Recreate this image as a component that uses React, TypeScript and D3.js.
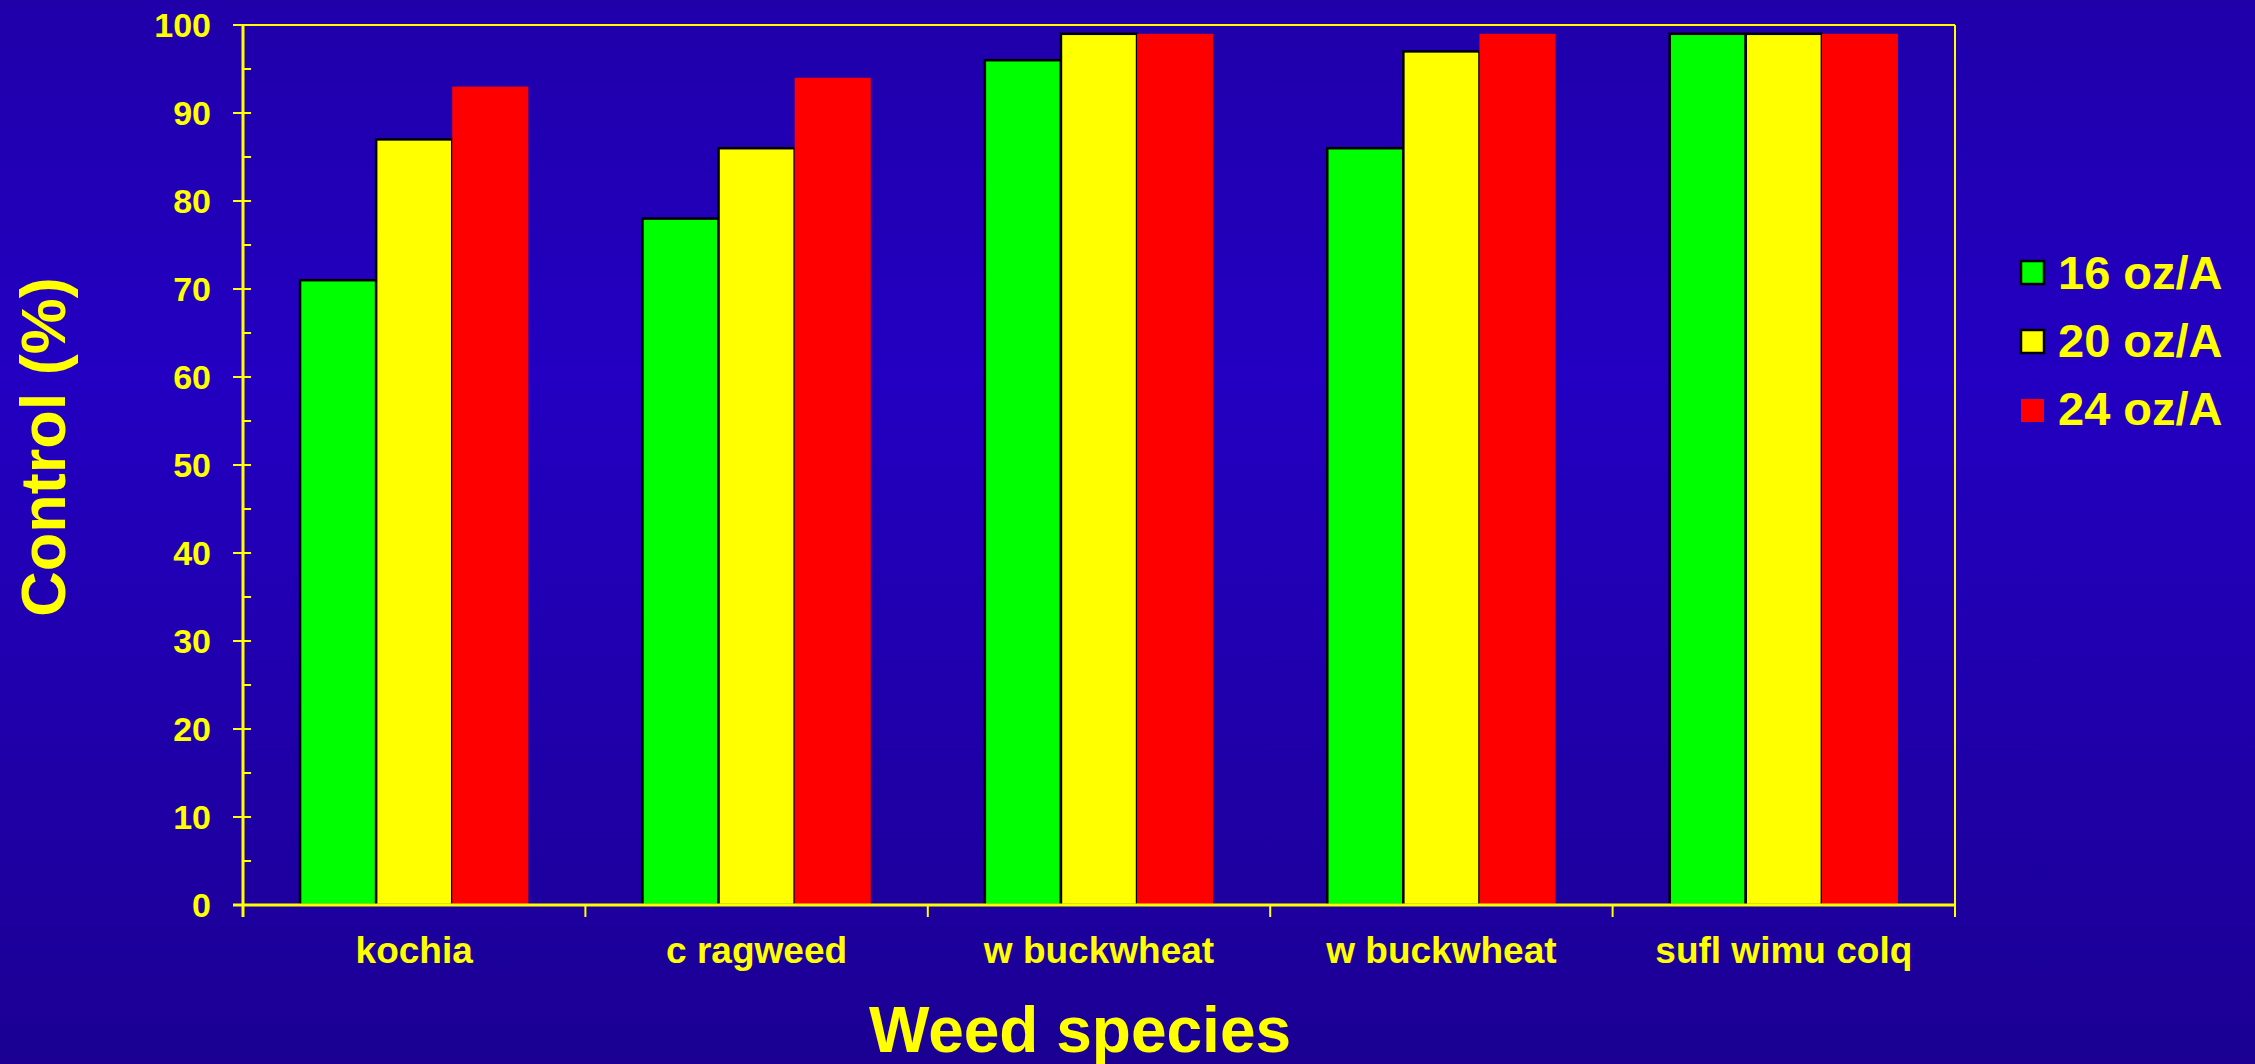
import React from "react";
import * as d3 from "d3";

const categories = ["kochia", "c ragweed", "w buckwheat", "w buckwheat", "sufl wimu colq"];
const seriesNames = ["16 oz/A", "20 oz/A", "24 oz/A"];
const seriesColors = ["#00ff00", "#ffff00", "#ff0000"];
const seriesStroke = ["#000000", "#000000", "none"];
const values16 = [71, 78, 96, 86, 99];
const values20 = [87, 86, 99, 97, 99];
const values24 = [93, 94, 99, 99, 99];
const seriesValues = [values16, values20, values24];
const yMajorTicks = [0, 10, 20, 30, 40, 50, 60, 70, 80, 90, 100];
const yMinorTicks = [5, 15, 25, 35, 45, 55, 65, 75, 85, 95];

const W = 2255;
const H = 1064;
const left = 243;
const right = 1955;
const top = 25;
const bottom = 905;
const YELLOW = "#ffff00";
const FONT = "'Liberation Sans', Arial, sans-serif";

export default function App() {
  const idx = categories.map((_, i) => i);
  const x0 = d3
    .scaleBand<number>()
    .domain(idx)
    .range([left, right])
    .paddingInner(1 / 3)
    .paddingOuter(1 / 6);
  const x1 = d3
    .scaleBand<number>()
    .domain([0, 1, 2])
    .range([0, x0.bandwidth()]);
  const y = d3.scaleLinear().domain([0, 100]).range([bottom, top]);
  const step = x0.step();
  const boundaries = d3.range(categories.length + 1).map((i) => left + i * step);

  return (
    <svg
      width={W}
      height={H}
      style={{ position: "absolute", left: 0, top: 0, display: "block" }}
      fontFamily={FONT}
    >
      <defs>
        <linearGradient id="bg" x1="0" y1="0" x2="0" y2="1">
          <stop offset="0%" stopColor="#1f00a9" />
          <stop offset="35%" stopColor="#2300c2" />
          <stop offset="100%" stopColor="#1b0093" />
        </linearGradient>
      </defs>
      <rect x={0} y={0} width={W} height={H} fill="url(#bg)" />

      {/* bars */}
      {seriesValues.map((vals, s) =>
        vals.map((v, i) => (
          <rect
            key={`b${s}-${i}`}
            x={(x0(i) as number) + (x1(s) as number)}
            y={y(v)}
            width={x1.bandwidth()}
            height={y(0) - y(v)}
            fill={seriesColors[s]}
            stroke={seriesStroke[s]}
            strokeWidth={2.5}
          />
        ))
      )}

      {/* frame top & right */}
      <line x1={left} x2={right} y1={top} y2={top} stroke={YELLOW} strokeWidth={2} />
      <line x1={right} x2={right} y1={top} y2={bottom} stroke={YELLOW} strokeWidth={2} />

      {/* y axis */}
      <line x1={left} x2={left} y1={top} y2={bottom + 12} stroke={YELLOW} strokeWidth={3} />
      {yMajorTicks.map((t) => (
        <g key={`ym${t}`}>
          <line x1={left - 10} x2={left + 8} y1={y(t)} y2={y(t)} stroke={YELLOW} strokeWidth={2} />
          <text
            x={211}
            y={y(t) + 12}
            textAnchor="end"
            fill={YELLOW}
            fontSize={34}
            fontWeight="bold"
          >
            {t}
          </text>
        </g>
      ))}
      {yMinorTicks.map((t) => (
        <line key={`yn${t}`} x1={left} x2={left + 8} y1={y(t)} y2={y(t)} stroke={YELLOW} strokeWidth={2} />
      ))}

      {/* x axis */}
      <line x1={left - 10} x2={right} y1={bottom} y2={bottom} stroke={YELLOW} strokeWidth={3} />
      {boundaries.map((b, i) => (
        <line key={`xt${i}`} x1={b} x2={b} y1={bottom} y2={bottom + 12} stroke={YELLOW} strokeWidth={2} />
      ))}
      {categories.map((c, i) => (
        <text
          key={`xl${i}`}
          x={(x0(i) as number) + x0.bandwidth() / 2}
          y={963}
          textAnchor="middle"
          fill={YELLOW}
          fontSize={37}
          fontWeight="bold"
        >
          {c}
        </text>
      ))}

      {/* axis titles */}
      <text
        x={1080}
        y={1052}
        textAnchor="middle"
        fill={YELLOW}
        fontSize={64}
        fontWeight="bold"
      >
        Weed species
      </text>
      <text
        transform={`translate(65, 447) rotate(-90)`}
        textAnchor="middle"
        fill={YELLOW}
        fontSize={63}
        fontWeight="bold"
      >
        Control (%)
      </text>

      {/* legend */}
      {seriesNames.map((n, s) => (
        <g key={`lg${s}`}>
          <rect
            x={2021}
            y={261 + s * 69}
            width={23}
            height={23}
            fill={seriesColors[s]}
            stroke={seriesStroke[s]}
            strokeWidth={2.5}
          />
          <text x={2058} y={289 + s * 68} fill={YELLOW} fontSize={47} fontWeight="bold">
            {n}
          </text>
        </g>
      ))}
    </svg>
  );
}
